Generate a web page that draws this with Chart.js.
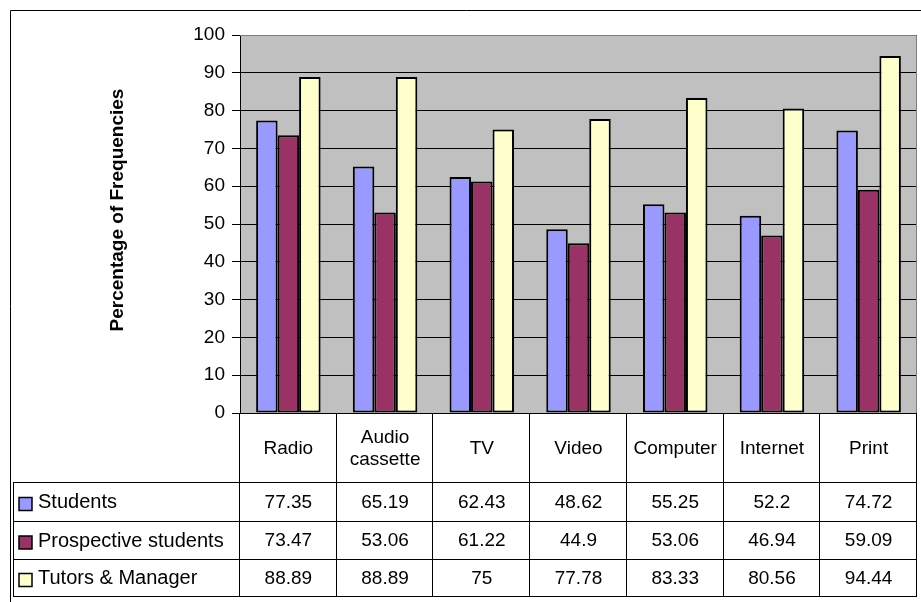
<!DOCTYPE html>
<html>
<head>
<meta charset="utf-8">
<script src="https://cdn.jsdelivr.net/npm/chart.js@4.4.0/dist/chart.umd.min.js"></script>
<style>
  html, body { margin: 0; padding: 0; background: #ffffff; }
  #wrap { width: 921px; height: 602px; }
</style>
</head>
<body>
<div id="wrap"><canvas id="chart" width="921" height="602"></canvas></div>
<script>
// Media categories (multi-line labels are arrays of lines)
const categories = [['Radio'], ['Audio', 'cassette'], ['TV'], ['Video'], ['Computer'], ['Internet'], ['Print']];

// Series
const seriesNames = ['Students', 'Prospective students', 'Tutors & Manager'];
const students = [77.35, 65.19, 62.43, 48.62, 55.25, 52.2, 74.72];
const prospective = [73.47, 53.06, 61.22, 44.9, 53.06, 46.94, 59.09];
const tutors = [88.89, 88.89, 75, 77.78, 83.33, 80.56, 94.44];
const seriesColors = ['#9999FF', '#993366', '#FFFFCC'];

// Value axis
const yMin = 0;
const yMax = 100;
const yStep = 10;
const yTitle = 'Percentage of Frequencies';

const FONT = '"Liberation Sans", Arial, sans-serif';
const seriesValues = [students, prospective, tutors];

// Plot background, outer frame
const backgroundPlugin = {
  id: 'plotBackground',
  beforeDraw(chart) {
    const { ctx, chartArea: a } = chart;
    ctx.save();
    ctx.fillStyle = '#C0C0C0';
    ctx.fillRect(a.left, a.top, a.right - a.left, a.bottom - a.top);
    ctx.strokeStyle = '#000000';
    ctx.lineWidth = 1;
    ctx.beginPath();
    ctx.moveTo(10.5, chart.height + 5);
    ctx.lineTo(10.5, 10.5);
    ctx.lineTo(chart.width + 5, 10.5);
    ctx.stroke();
    ctx.restore();
  }
};

// Plot border, axis title and the data table below the plot
const tablePlugin = {
  id: 'dataTable',
  afterDraw(chart) {
    const { ctx, chartArea: a } = chart;
    const xs = chart.scales.x;
    const n = categories.length;
    const catW = (a.right - a.left) / n;

    ctx.save();
    // gray plot border (top, right)
    ctx.strokeStyle = '#808080';
    ctx.lineWidth = 1;
    ctx.beginPath();
    ctx.moveTo(a.left, a.top + 0.5);
    ctx.lineTo(a.right - 0.5, a.top + 0.5);
    ctx.lineTo(a.right - 0.5, a.bottom);
    ctx.stroke();

    // axis title
    ctx.fillStyle = '#000000';
    ctx.font = 'bold 19px ' + FONT;
    ctx.textAlign = 'center';
    ctx.textBaseline = 'middle';
    ctx.translate(118, 210);
    ctx.rotate(-Math.PI / 2);
    ctx.fillText(yTitle, 0, 0);
    ctx.setTransform(1, 0, 0, 1, 0, 0);

    // table grid
    const legendLeft = 13;
    const top = a.bottom;
    const rows = [482, 521, 559, 596];
    ctx.strokeStyle = '#000000';
    ctx.lineWidth = 1;
    ctx.beginPath();
    rows.forEach(y => {
      ctx.moveTo(legendLeft, y + 0.5);
      ctx.lineTo(a.right, y + 0.5);
    });
    ctx.moveTo(legendLeft + 0.5, rows[0]);
    ctx.lineTo(legendLeft + 0.5, rows[3] + 1);
    for (let i = 0; i <= n; i++) {
      const x = Math.round(a.left + i * catW) - 0.5;
      ctx.moveTo(x, top);
      ctx.lineTo(x, rows[3] + 1);
    }
    ctx.stroke();

    // category labels
    ctx.font = '19px ' + FONT;
    ctx.textAlign = 'center';
    ctx.textBaseline = 'middle';
    const headMid = (top + rows[0]) / 2 + 1;
    categories.forEach((lines, i) => {
      const cx = xs.getPixelForValue(i);
      const lh = 22;
      lines.forEach((t, k) => {
        ctx.fillText(t, cx, headMid + (k - (lines.length - 1) / 2) * lh);
      });
    });

    // value rows with legend keys
    seriesValues.forEach((vals, r) => {
      const y0 = rows[r], y1 = rows[r + 1];
      const my = (y0 + y1) / 2 + 1;
      ctx.font = '19px ' + FONT;
      ctx.textAlign = 'center';
      vals.forEach((v, i) => {
        ctx.fillText(String(v), xs.getPixelForValue(i), my);
      });
      // key
      ctx.fillStyle = seriesColors[r];
      ctx.fillRect(19, my - 5, 13, 13);
      ctx.strokeStyle = '#000000';
      ctx.lineWidth = 1.5;
      ctx.strokeRect(19, my - 5, 13, 13);
      ctx.fillStyle = '#000000';
      ctx.textAlign = 'left';
      ctx.font = '20px ' + FONT;
      ctx.fillText(seriesNames[r], 38, my);
    });
    ctx.restore();
  }
};

new Chart(document.getElementById('chart'), {
  type: 'bar',
  data: {
    labels: categories.map(l => l.join(' ')),
    datasets: seriesNames.map((name, i) => ({
      label: name,
      data: seriesValues[i],
      backgroundColor: seriesColors[i],
      borderColor: '#000000',
      borderWidth: 2,
      borderSkipped: false,
      categoryPercentage: 3 / 4.5,
      barPercentage: 1.0
    }))
  },
  options: {
    responsive: false,
    animation: false,
    devicePixelRatio: 1,
    layout: { padding: { left: 10, top: 35, right: 4, bottom: 189 } },
    plugins: {
      legend: { display: false },
      tooltip: { enabled: false },
      title: { display: false }
    },
    scales: {
      x: {
        display: false,
        offset: true
      },
      y: {
        min: yMin,
        max: yMax,
        afterFit(scale) { scale.width = 230; },
        ticks: {
          stepSize: yStep,
          padding: 7,
          color: '#000000',
          font: { family: FONT, size: 19 }
        },
        grid: {
          color: '#000000',
          lineWidth: 1,
          drawTicks: true,
          tickLength: 8,
          tickColor: '#000000'
        },
        border: { display: true, color: '#000000', width: 1 }
      }
    }
  },
  plugins: [backgroundPlugin, tablePlugin]
});
</script>
</body>
</html>
